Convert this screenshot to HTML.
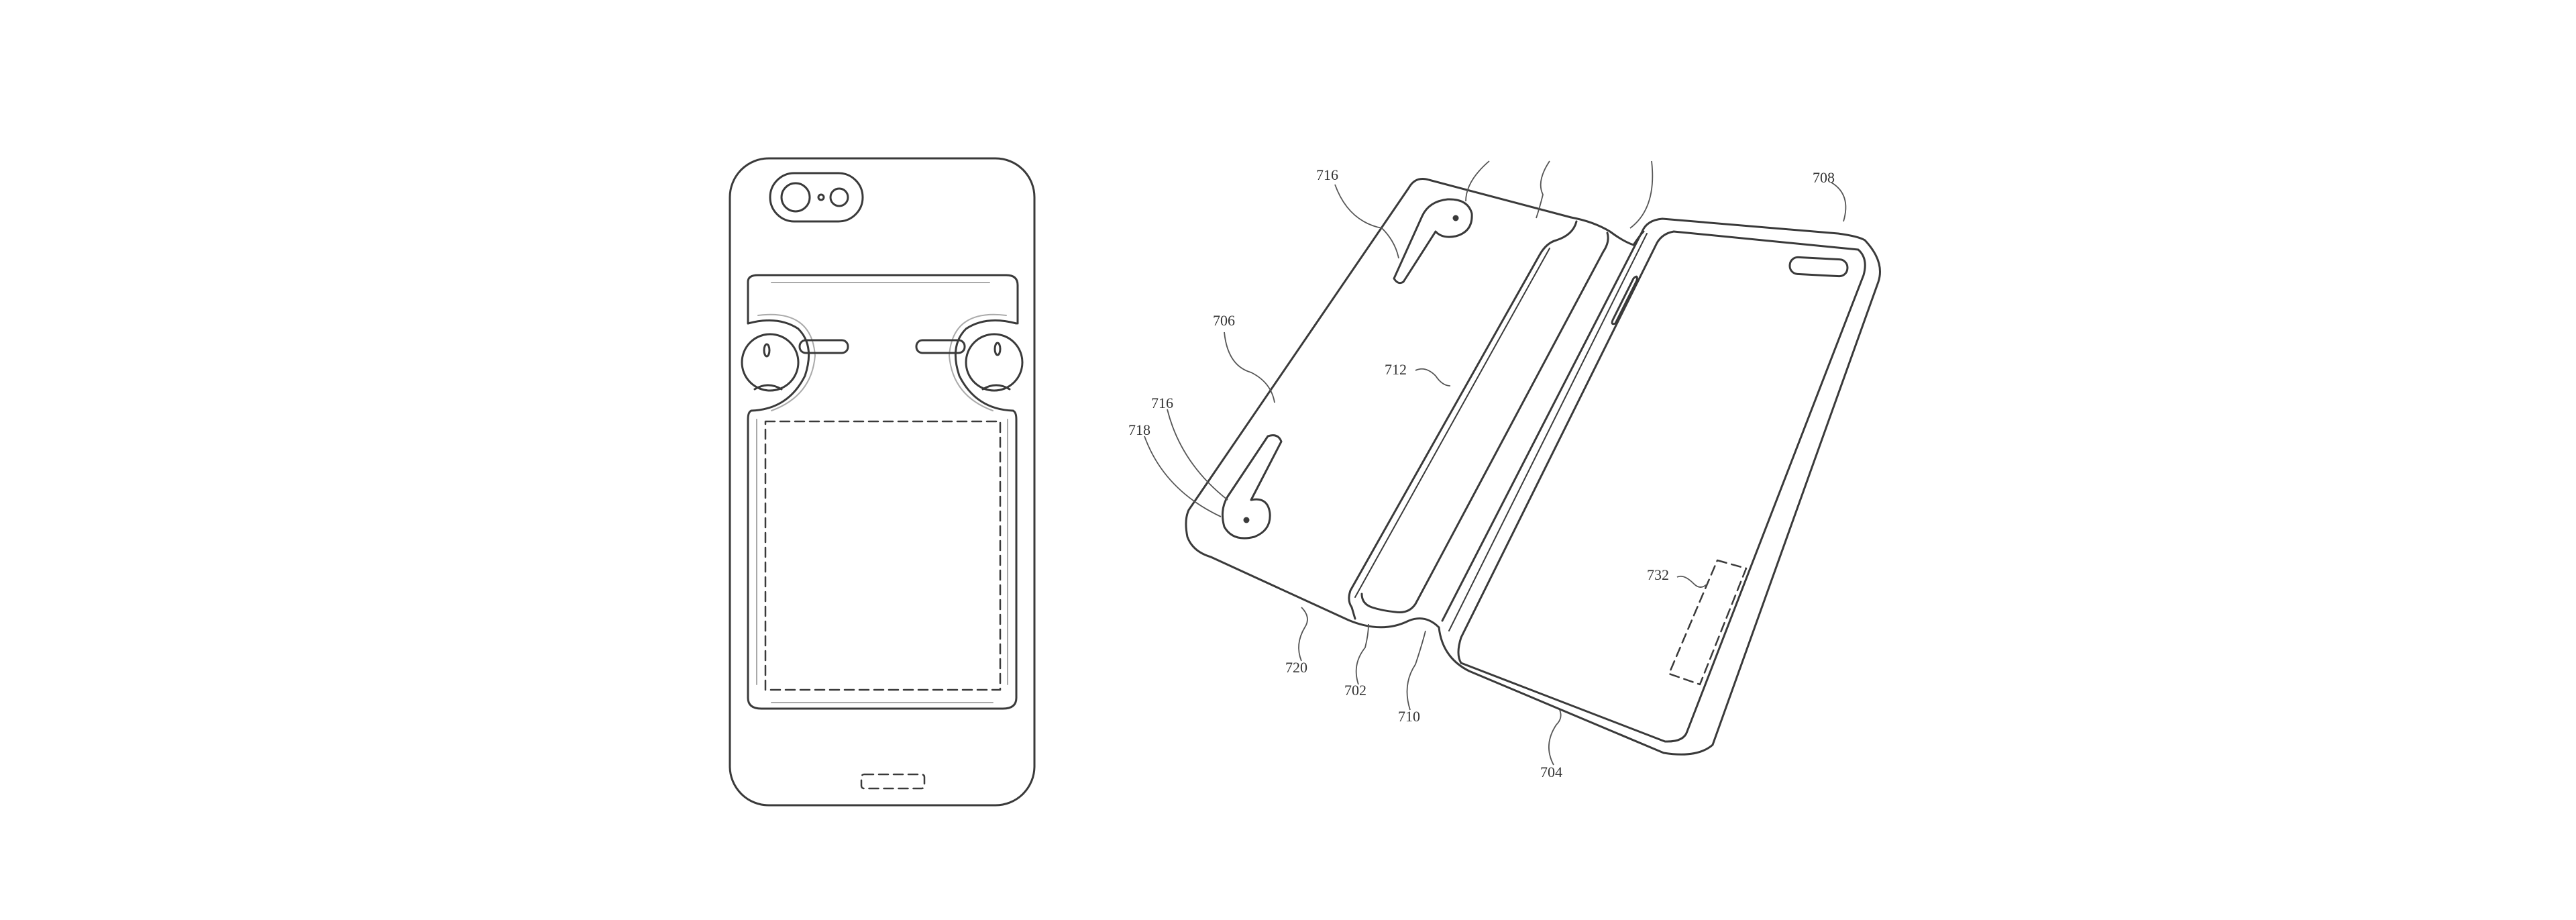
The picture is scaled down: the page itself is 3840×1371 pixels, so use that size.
<!DOCTYPE html>
<html><head><meta charset="utf-8"><style>
html,body{margin:0;padding:0;background:#fff;}
svg{display:block;}
text{font-family:"Liberation Serif",serif;font-size:22px;fill:#333;}
</style></head><body>
<svg width="3840" height="1371" viewBox="0 0 3840 1371" xmlns="http://www.w3.org/2000/svg">
<g fill="none" stroke="#3a3a3a" stroke-width="3" stroke-linecap="round" stroke-linejoin="round">
<!-- LEFT PHONE -->
<rect x="1088" y="236" width="454" height="964" rx="58" ry="58"/>
<rect x="1148" y="258" width="138" height="72" rx="36"/>
<circle cx="1186" cy="294" r="21"/>
<circle cx="1224" cy="294" r="4"/>
<circle cx="1251" cy="294" r="13"/>
<!-- upper band -->
<path d="M1115 482 V420 Q1115 410 1130 410 H1500 Q1517 410 1517 425 V482"/>
<path d="M1150 421 H1475" stroke="#aaa" stroke-width="2"/>
<!-- earbuds and cradle arcs -->
<path d="M1115 482 Q1160 470 1190 490 Q1215 515 1200 560 Q1175 610 1120 612"/>
<path d="M1515 482 Q1470 470 1440 490 Q1415 515 1430 560 Q1455 610 1510 612"/>
<path d="M1130 470 Q1210 460 1215 530 Q1210 590 1150 612" stroke="#aaa" stroke-width="2"/>
<path d="M1500 470 Q1420 460 1415 530 Q1420 590 1480 612" stroke="#aaa" stroke-width="2"/>
<circle cx="1148" cy="540" r="42"/>
<circle cx="1482" cy="540" r="42"/>
<rect x="1192" y="507" width="72" height="19" rx="9"/>
<rect x="1366" y="507" width="72" height="19" rx="9"/>
<ellipse cx="1143" cy="522" rx="4" ry="9"/>
<ellipse cx="1487" cy="520" rx="4" ry="9"/>
<path d="M1125 580 Q1145 568 1165 580"/><path d="M1465 580 Q1485 568 1505 580"/>
<!-- pocket -->
<path d="M1120 612 Q1115 614 1115 625 V1040 Q1115 1056 1135 1056 H1495 Q1515 1056 1515 1040 V625 Q1515 614 1510 612"/>
<path d="M1128 625 V1020 M1502 625 V1020 M1150 1047 H1480" stroke="#aaa" stroke-width="2"/>
<rect x="1141" y="628" width="350" height="400" stroke-dasharray="14 8" stroke-width="2.5"/>
<rect x="1284" y="1154" width="94" height="21" rx="4" stroke-dasharray="14 8" stroke-width="2.5"/>

<!-- RIGHT FIGURE -->
<path d="M2342 324 L2130 268 Q2110 262 2100 280 L1772 760 Q1765 775 1770 800 Q1778 822 1805 830 L2010 924"/>
<path d="M2010 924 Q2060 945 2100 925 Q2125 915 2145 935"/>
<path d="M2145 935 Q2150 980 2190 1000 L2480 1122 Q2530 1130 2553 1110 L2800 420 Q2810 390 2780 358 Q2770 352 2740 348 L2478 326 Q2455 328 2448 345 L2150 925"/>
<path d="M2178 988 L2482 1105 Q2510 1106 2515 1090 L2778 410 Q2785 385 2770 372 L2495 345 Q2478 348 2470 362 L2178 950 Q2170 975 2178 988"/>
<path d="M2160 940 L2455 348" stroke-width="2"/>
<rect x="2668" y="385" width="86" height="25" rx="12" transform="rotate(3 2711 397)"/>
<path d="M2435 415 L2405 475 Q2400 485 2408 482 L2440 418 Q2442 408 2435 415Z"/>
<polygon points="2560,835 2603,847 2534,1020 2488,1004" stroke-dasharray="14 8" stroke-width="2.5"/>
<path d="M2342 324 Q2375 330 2400 345 Q2420 360 2435 365 Q2445 350 2450 345"/>
<path d="M2350 330 Q2345 350 2320 358 Q2305 362 2295 380 L2013 880 Q2008 895 2015 905 L2020 922"/>
<path d="M2396 347 Q2400 360 2390 375 L2110 900 Q2100 915 2080 912 Q2060 910 2045 905 Q2030 900 2030 885"/>
<path d="M2310 370 L2020 890" stroke-width="2"/>
<path d="M2078 415 L2120 322 Q2130 300 2158 297 Q2188 296 2194 318 Q2196 345 2170 352 Q2150 356 2140 345 L2092 420 Q2084 425 2078 415Z"/>
<circle cx="2170" cy="325" r="3" fill="#3a3a3a"/>
<path d="M1910 658 L1865 745 Q1890 740 1893 765 Q1895 790 1870 800 Q1838 808 1825 785 Q1818 760 1830 740 L1890 650 Q1905 645 1910 658Z"/>
<circle cx="1858" cy="775" r="3" fill="#3a3a3a"/>
</g>
<g fill="none" stroke="#555" stroke-width="1.8">
<path d="M1990 275 Q2010 330 2060 340 Q2080 360 2085 385"/>
<path d="M2220 240 Q2185 270 2185 300"/>
<path d="M2310 240 Q2290 270 2300 290 Q2295 310 2290 325"/>
<path d="M2462 240 Q2470 310 2430 340"/>
<path d="M2730 272 Q2760 290 2748 330"/>
<path d="M1825 495 Q1830 545 1865 555 Q1895 570 1900 600"/>
<path d="M2110 552 Q2125 545 2140 560 Q2150 575 2162 575"/>
<path d="M1740 610 Q1760 690 1830 745"/>
<path d="M1706 650 Q1735 730 1820 770"/>
<path d="M2500 860 Q2510 855 2525 870 Q2535 880 2545 870"/>
<path d="M1940 985 Q1930 960 1945 935 Q1955 920 1940 905"/>
<path d="M2025 1020 Q2015 990 2035 965 Q2040 945 2040 930"/>
<path d="M2102 1058 Q2090 1020 2110 990 Q2120 960 2125 940"/>
<path d="M2316 1140 Q2300 1110 2320 1080 Q2330 1070 2325 1058"/>
</g>
<g>
<text x="1962" y="268">716</text>
<text x="2702" y="272">708</text>
<text x="1808" y="485">706</text>
<text x="2064" y="558">712</text>
<text x="1716" y="608">716</text>
<text x="1682" y="648">718</text>
<text x="2455" y="864">732</text>
<text x="1916" y="1002">720</text>
<text x="2004" y="1036">702</text>
<text x="2084" y="1075">710</text>
<text x="2296" y="1158">704</text>
</g>
</svg>
</body></html>
